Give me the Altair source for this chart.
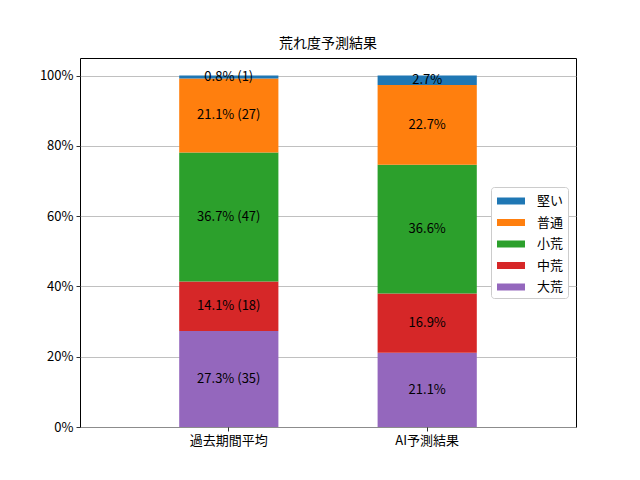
import altair as alt
import pandas as pd

groups = ["過去期間平均", "AI予測結果"]
categories = ["大荒", "中荒", "小荒", "普通", "堅い"]  # bottom to top
legend_order = ["堅い", "普通", "小荒", "中荒", "大荒"]
colors = ["#1f77b4", "#ff7f0e", "#2ca02c", "#d62728", "#9467bd"]

past_pct = [27.3, 14.1, 36.7, 21.1, 0.8]
past_cnt = [35, 18, 47, 27, 1]
ai_pct = [21.1, 16.9, 36.6, 22.7, 2.7]

FONT = "Noto Sans CJK JP"

rows = []
for i, c in enumerate(categories):
    rows.append({"group": groups[0], "cat": c, "order": i, "value": past_pct[i],
                 "label": f"{past_pct[i]}% ({past_cnt[i]})"})
for i, c in enumerate(categories):
    rows.append({"group": groups[1], "cat": c, "order": i, "value": ai_pct[i],
                 "label": f"{ai_pct[i]}%"})
df = pd.DataFrame(rows)

base = alt.Chart(df).transform_stack(
    stack="value", groupby=["group"], as_=["y0", "y1"],
    sort=[alt.SortField("order", order="ascending")]
).transform_calculate(mid="(datum.y0 + datum.y1) / 2")

xenc = alt.X("group:N", sort=groups, title=None,
             scale=alt.Scale(paddingInner=0.5, paddingOuter=0.5),
             axis=alt.Axis(labelAngle=0, labelFont=FONT, labelFontSize=13,
                           labelColor="black", tickColor="black", tickSize=4,
                           tickWidth=0.8, domain=False, labelPadding=3))
yscale = alt.Scale(domain=[0, 105], nice=False, zero=True)

bars = base.mark_bar().encode(
    x=xenc,
    y=alt.Y("y0:Q", scale=yscale, title=None,
            axis=alt.Axis(values=[0, 20, 40, 60, 80, 100],
                          labelExpr="datum.value + '%'",
                          labelFont=FONT, labelFontSize=13, labelColor="black",
                          tickColor="black", tickSize=4, tickWidth=0.8,
                          domain=False, grid=True, gridColor="#b0b0b0",
                          gridWidth=0.8, labelPadding=3)),
    y2="y1:Q",
    color=alt.Color("cat:N", scale=alt.Scale(domain=legend_order, range=colors),
                    legend=alt.Legend(title=None, orient="none", legendX=411,
                                      legendY=129, labelFont=FONT,
                                      labelFontSize=13, labelColor="black",
                                      symbolType="M-1.4,-0.35H1.4V0.35H-1.4Z",
                                      symbolSize=400, symbolStrokeWidth=0,
                                      symbolOffset=6,
                                      fillColor="white", strokeColor="#cccccc",
                                      cornerRadius=3, padding=4,
                                      rowPadding=4.5, labelOffset=16)),
)

texts = base.mark_text(font=FONT, fontSize=13, color="black").encode(
    x=alt.X("group:N", sort=groups),
    y=alt.Y("mid:Q", scale=yscale),
    text="label:N",
)

chart = alt.layer(bars, texts).properties(
    width=496, height=369,
    title=alt.TitleParams("荒れ度予測結果", font=FONT, fontSize=14,
                          fontWeight="normal", color="black", offset=7,
                          anchor="middle"),
    autosize=alt.AutoSizeParams(type="none"),
    padding={"left": 72, "top": 50, "right": 56, "bottom": 45},
).configure_view(stroke="black", strokeWidth=1)

chart.save("out.html", embed_options={"renderer": "svg", "actions": False})
